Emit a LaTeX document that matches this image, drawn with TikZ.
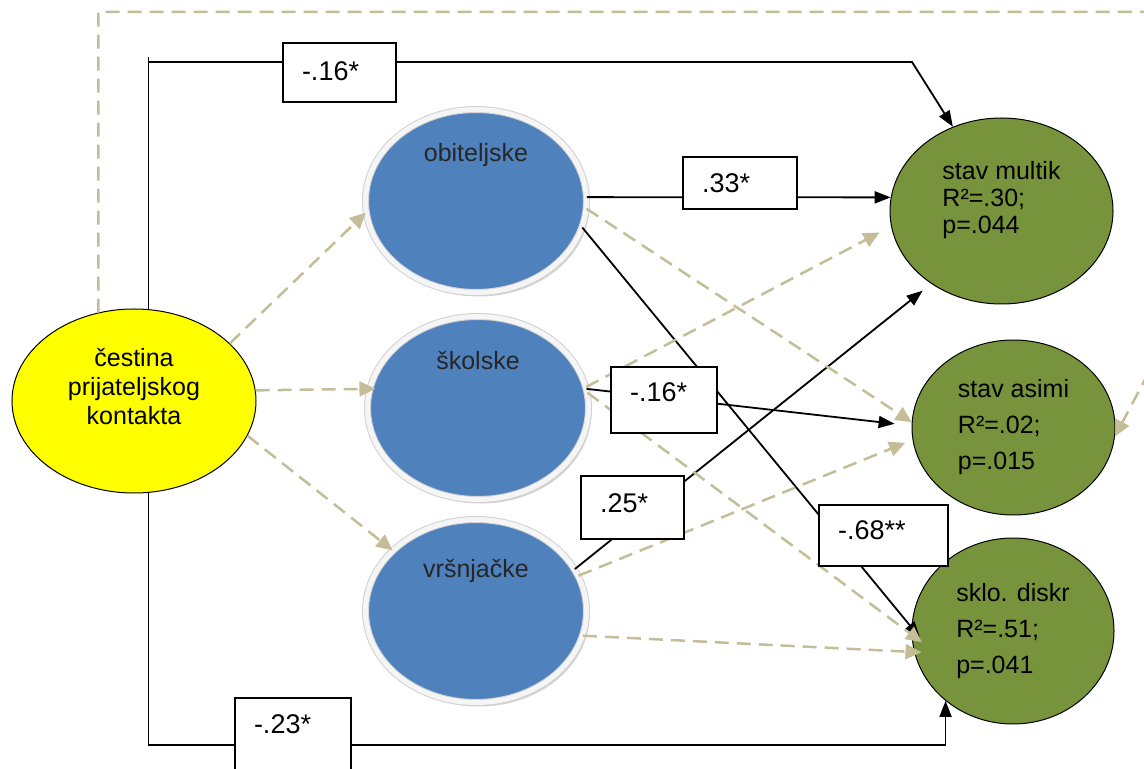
\documentclass[tikz,border=0pt]{standalone}
\usepackage{fontspec}
\setmainfont{Liberation Sans}
\usepackage{tikz}
\usetikzlibrary{arrows.meta,shapes.geometric,shadows}
\definecolor{predyellow}{HTML}{FFFF00}
\definecolor{medblue}{HTML}{4F81BD}
\definecolor{outgreen}{HTML}{77933C}
\definecolor{nstan}{HTML}{C4BD97}
\newcommand{\uplabel}[2]{\raisebox{#1}[0pt][0pt]{#2}}

\begin{document}
\begin{tikzpicture}[x=0.5pt, y=-0.5pt,
 predictor/.style={ellipse, draw, line width=0.5pt, fill=predyellow, inner sep=0pt, align=center,
   minimum width=122pt, minimum height=92pt, font=\fontsize{12.5}{14.5}\selectfont},
 mediator/.style={ellipse, draw=black!18, line width=0.5pt, double=black!4, double distance=2.5pt,
   fill=medblue, inner sep=0pt, minimum width=110.5pt, minimum height=91.5pt, text=black!85,
   font=\fontsize{12.5}{15}\selectfont,
   drop shadow={shadow xshift=1.5pt, shadow yshift=-2pt, opacity=0.35}},
 outcome/.style={ellipse, draw, line width=0.5pt, fill=outgreen, inner sep=0pt, align=left,
   font=\fontsize{12.5}{18}\selectfont},
 coef/.style={draw, line width=1pt, fill=white, align=left, inner xsep=9.5pt, inner ysep=0pt,
   font=\fontsize{13.5}{16}\selectfont},
 sigpath/.style={draw, line width=0.9pt, -{Triangle[length=8pt,width=6pt]}},
 nspath/.style={draw=nstan, line width=1.25pt, dash pattern=on 7pt off 4pt,
   -{Triangle[length=8pt,width=7.5pt]}}]
 \useasboundingbox (0,0) rectangle (1144,769);

 % constructs
 \node[predictor] (cest) at (134,401) {čestina\\prijateljskog\\kontakta\\\mbox{}};
 \node[mediator] (obit) at (476,201) {\uplabel{19.5pt}{obiteljske}};
 \node[mediator] (skol) at (478,408) {\uplabel{19pt}{školske}};
 \node[mediator] (vrs) at (476,611) {\uplabel{17pt}{vršnjačke}};
 \node[outcome, minimum width=111.5pt, minimum height=93pt, font=\fontsize{12.5}{13.5}\selectfont]
   (multik) at (1001.5,211) {stav multik\\R²=.30;\\p=.044\\\mbox{}};
 \node[outcome, minimum width=101.5pt, minimum height=87.5pt] (asimi) at (1013.5,427.5) {stav asimi\\R²=.02;\\p=.015};
 \node[outcome, minimum width=101pt, minimum height=93pt] (diskr) at (1013,631) {sklo. diskr\\R²=.51;\\p=.041};

 \coordinate (tick) at (148,57);
 \coordinate (topbend) at (912,62);
 \coordinate (botline) at (0,745);
 \coordinate (farA) at (1170,12);
 \coordinate (farB) at (1170,332);

 % significant paths
 \draw[sigpath,-] (cest.81) -- (cest.81 |- tick);
 \draw[sigpath] (cest.81 |- topbend) -- (topbend) -- (multik.120);
 \draw[sigpath] (cest.279) |- (botline -| diskr.226) -- (diskr.226);
 \draw[sigpath] (obit.2) -- (multik.173);
 \draw[sigpath, shorten >=-6.5pt] (obit.346) -- (diskr.178);
 \draw[sigpath, shorten >=8.5pt] (skol.10) -- (asimi.179);
 \draw[sigpath, shorten >=5.5pt] (vrs.23) -- (multik.226);

 % non-significant paths
 \draw[nspath] (cest.31) -- (obit.186);
 \draw[nspath, shorten >=-3pt] (cest.5) -- (skol.170);
 \draw[nspath] (cest.343) -- (vrs.144);
 \draw[nspath] (obit.356) -- (asimi.177);
 \draw[nspath, shorten >=6.5pt] (skol.11) -- (multik.188);
 \draw[nspath, shorten >=-6.5pt] (skol.8) -- (diskr.182);
 \draw[nspath, shorten >=4pt] (vrs.19) -- (asimi.187);
 \draw[nspath, shorten >=-3.7pt] (vrs.347) -- (diskr.192);
 \draw[nspath] (cest.112) |- (farA) -- (farB) -- (asimi.355);

 % coefficients
 \node[coef, text width=37.5pt, minimum height=29.5pt, text depth=1.5pt] (b16top) at (339.5,72.5) {-.16*};
 \node[coef, text width=38pt, minimum height=26pt] (b33) at (740,183) {.33*};
 \node[coef, text width=34pt, minimum height=33pt, text depth=8pt] (b16mid) at (664,400) {-.16*};
 \node[coef, text width=32.5pt, minimum height=31.5pt, text depth=4.5pt] (b25) at (632.5,507.5) {.25*};
 \node[coef, text width=45.5pt, minimum height=30.5pt, text depth=5.5pt] (b68) at (883.5,535.5) {-.68**};
 \node[coef, text width=39pt, minimum height=46pt, text depth=20pt] (b23) at (293,744) {-.23*};
% \node[coef] (b23) at (293,744) {-.23*};
\end{tikzpicture}
\end{document}
